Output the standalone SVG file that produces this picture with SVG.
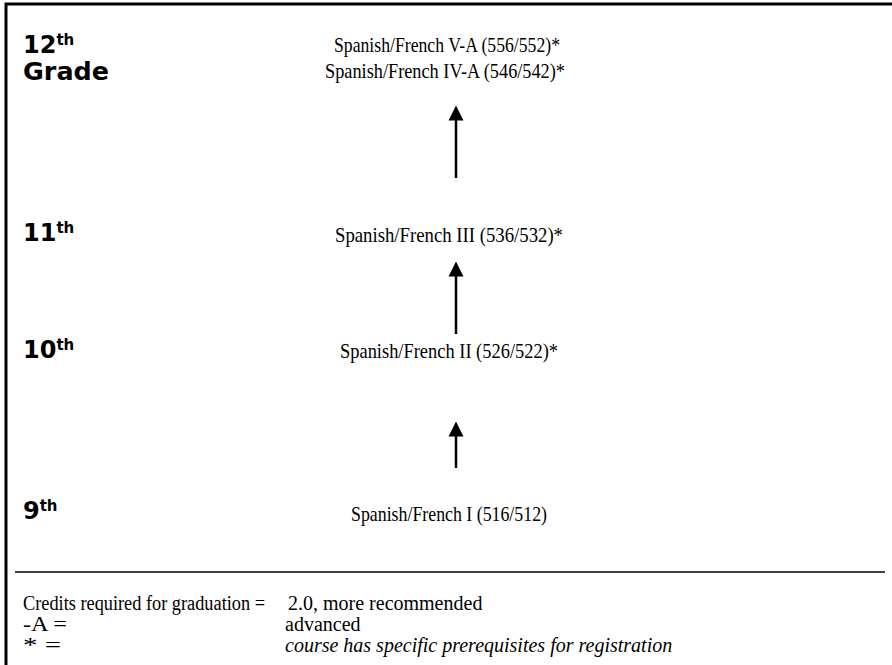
<svg xmlns="http://www.w3.org/2000/svg" width="892" height="665" viewBox="0 0 892 665">
<style>
.g{font-family:"DejaVu Sans",Verdana,sans-serif;font-weight:bold;font-size:24px;fill:#000}
.s{font-size:15px}
.c{font-family:"Liberation Serif","Times New Roman",serif;font-size:21px;fill:#000}
.l{font-family:"Liberation Serif","Times New Roman",serif;font-size:20px;fill:#000}
.i{font-style:italic}
.conn{stroke:#000;stroke-width:2.5;fill:none}
</style>
<defs>
<marker id="ah" viewBox="0 0 10 10" refX="1" refY="5" markerWidth="6" markerHeight="6.5" orient="auto" markerUnits="strokeWidth">
<path d="M0,0 L10,5 L0,10 z" fill="#000"/>
</marker>
</defs>
<rect width="892" height="665" fill="#fff"/>
<g id="frame">
<path d="M6,665 V4 H892" stroke="#000" stroke-width="3" fill="none"/>
<line x1="15" y1="572" x2="885" y2="572" stroke="#000" stroke-width="1.5"/>
</g>
<g id="grade12"><text class="g" x="23" y="53">12<tspan class="s" dy="-8">th</tspan></text><text class="g" x="23" y="80" textLength="86" lengthAdjust="spacingAndGlyphs">Grade</text></g>
<g id="grade11"><text class="g" x="23" y="241">11<tspan class="s" dy="-8">th</tspan></text></g>
<g id="grade10"><text class="g" x="23" y="358">10<tspan class="s" dy="-8">th</tspan></text></g>
<g id="grade9"><text class="g" x="23" y="519">9<tspan class="s" dy="-8">th</tspan></text></g>
<g id="course12"><text class="c" x="334" y="52" textLength="226" lengthAdjust="spacingAndGlyphs">Spanish/French V-A (556/552)*</text><text class="c" x="325" y="78" textLength="240" lengthAdjust="spacingAndGlyphs">Spanish/French IV-A (546/542)*</text></g>
<g id="course11"><text class="c" x="335" y="242" textLength="228" lengthAdjust="spacingAndGlyphs">Spanish/French III (536/532)*</text></g>
<g id="course10"><text class="c" x="340" y="358" textLength="218" lengthAdjust="spacingAndGlyphs">Spanish/French II (526/522)*</text></g>
<g id="course9"><text class="c" x="351" y="521" textLength="196" lengthAdjust="spacingAndGlyphs">Spanish/French I (516/512)</text></g>
<g id="connectors">
<line class="conn" x1="456" y1="178" x2="456" y2="119" marker-end="url(#ah)"/>
<line class="conn" x1="456" y1="334" x2="456" y2="275" marker-end="url(#ah)"/>
<line class="conn" x1="456" y1="468" x2="456" y2="435" marker-end="url(#ah)"/>
</g>
<g id="legend">
<text class="l" x="23" y="610" textLength="242" lengthAdjust="spacingAndGlyphs">Credits required for graduation =</text>
<text class="l" x="288" y="610">2.0, more recommended</text>
<text class="l" x="23" y="631" textLength="44" lengthAdjust="spacingAndGlyphs">-A  =</text>
<text class="l" x="285" y="631">advanced</text>
<text class="l" x="23" y="652" textLength="38" lengthAdjust="spacingAndGlyphs">*  =</text>
<text class="l i" x="285" y="652">course has specific prerequisites for registration</text>
</g>
</svg>
